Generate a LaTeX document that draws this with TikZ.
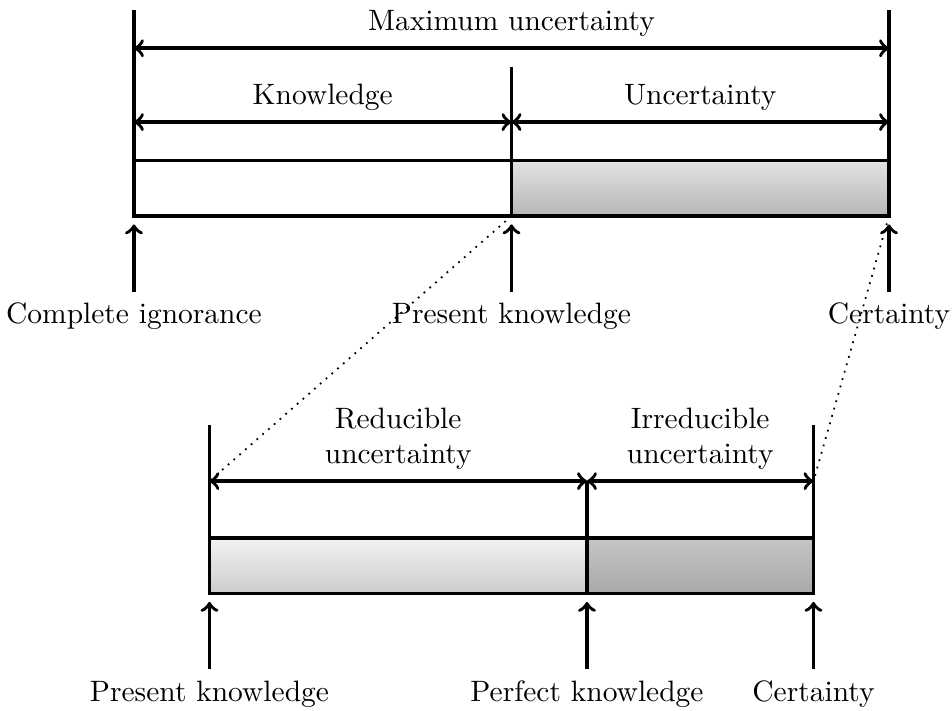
\documentclass[tikz,border=0pt]{standalone}
\usetikzlibrary{positioning}
\begin{document}
\begin{tikzpicture}[>=to,line width=1.2pt,node distance=9mm,span/.style={<->},link/.style={dotted,line width=0.6pt},mark up/.style={->,shorten >=1mm}]
\useasboundingbox (-1.597,-5.9) rectangle (9.751,2.575);
% upper scale
\coordinate (ig) at (0,0);
\coordinate (pk) at (4.5,0);
\coordinate (ce) at (9,0);
\coordinate (igt) at (0,2.46);
\coordinate (pkt) at (4.5,1.78);
\coordinate (cet) at (9,2.46);
\coordinate (m1) at (0,2);
\coordinate (m2) at (9,2);
\coordinate (k1) at (0,1.12);
\coordinate (k2) at (4.5,1.12);
\coordinate (k3) at (9,1.12);
\shade[top color=gray!22,bottom color=gray!58] (pk) rectangle (9,0.66);
\draw (ig) rectangle (9,0.66);
\draw (ig) -- (igt);
\draw (pk) -- (pkt);
\draw (ce) -- (cet);
\draw[span] (m1) -- (m2) node[midway,above] {Maximum uncertainty};
\draw[span] (k1) -- (k2) node[midway,above] {Knowledge};
\draw[span] (k2) -- (k3) node[midway,above] {Uncertainty};
\node (igl) [below=of ig] {Complete ignorance};
\node (pkl) [below=of pk] {Present knowledge};
\node (cel) [below=of ce] {Certainty};
\draw[mark up] (igl) -- (ig);
\draw[mark up] (pkl) -- (pk);
\draw[mark up] (cel) -- (ce);
% lower scale
\coordinate (pk2) at (0.9,-4.5);
\coordinate (pf) at (5.4,-4.5);
\coordinate (ce2) at (8.1,-4.5);
\coordinate (pk2t) at (0.9,-2.49);
\coordinate (ce2t) at (8.1,-2.49);
\coordinate (r1) at (0.9,-3.16);
\coordinate (r2) at (5.4,-3.16);
\coordinate (r3) at (8.1,-3.16);
\shade[top color=gray!10,bottom color=gray!40] (pk2) rectangle (5.4,-3.84);
\shade[top color=gray!45,bottom color=gray!68] (pf) rectangle (8.1,-3.84);
\draw (pk2) rectangle (8.1,-3.84);
\draw (pk2) -- (pk2t);
\draw (pf) -- (r2);
\draw (ce2) -- (ce2t);
\draw[span] (r1) -- (r2) node[midway,above,align=center] {Reducible\\uncertainty};
\draw[span] (r2) -- (r3) node[midway,above,align=center] {Irreducible\\uncertainty};
\node (pk2l) [below=of pk2] {Present knowledge};
\node (pfl) [below=of pf] {Perfect knowledge};
\node (ce2l) [below=of ce2] {Certainty};
\draw[mark up] (pk2l) -- (pk2);
\draw[mark up] (pfl) -- (pf);
\draw[mark up] (ce2l) -- (ce2);
\draw[link] (pk) -- (r1);
\draw[link] (ce) -- (r3);
\end{tikzpicture}
\end{document}
